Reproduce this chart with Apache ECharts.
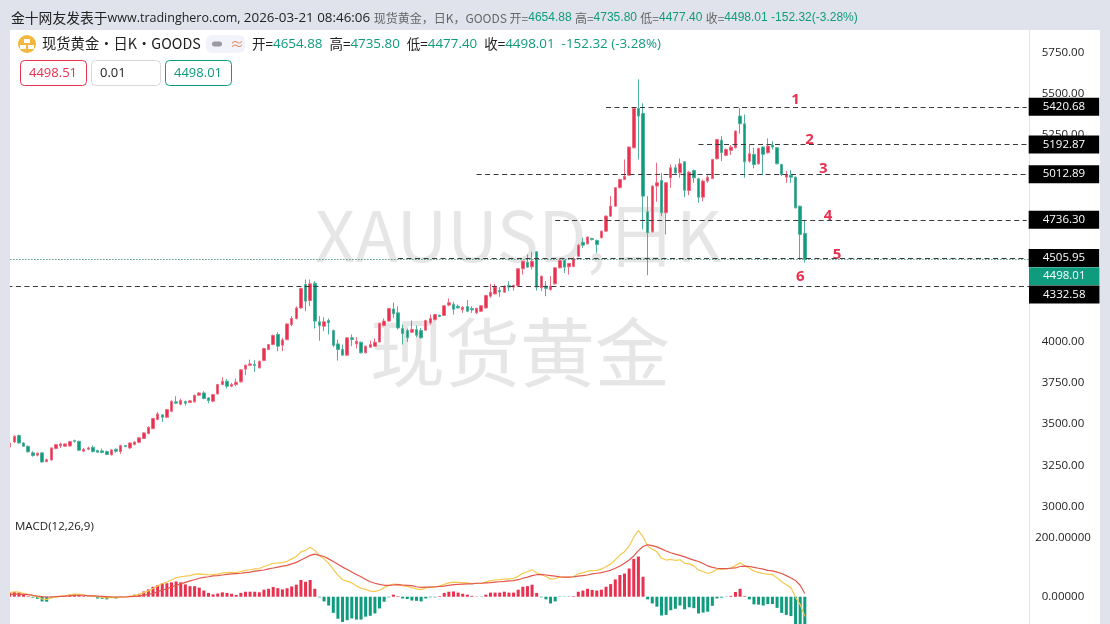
<!DOCTYPE html>
<html>
<head>
<meta charset="utf-8">
<title>XAUUSD 日K</title>
<script src="https://cdn.jsdelivr.net/npm/echarts@6/dist/echarts.min.js"></script>
<style>
  html, body { margin: 0; padding: 0; background: #e0e3eb; }
  #chart { width: 1110px; height: 624px; }
</style>
</head>
<body>
<div id="chart"></div>
<script>
// 日K 开高低收，从图上读取的估计值（第一根在左边缘被裁掉一半）
const opens = [
  3360,
  3391,3430,3385,3365,3325,3311,3325,3272,3282,3351,
  3367,3365,3367,3399,3395,3335,3347,3359,3339,3337,
  3333,3313,3347,3333,3369,3355,3375,3389,3412,3442,
  3472,3527,3555,3541,3577,3634,3620,3636,3630,3634,
  3674,3688,3658,3638,3682,3739,3759,3729,3739,3755,
  3832,3856,3860,3840,3884,3951,3981,4042,3977,4011,
  4102,4139,4203,4345,4248,4353,4119,4092,4127,4066,
  3985,3951,3917,4022,3985,3995,3931,3965,3971,3997,
  4096,4123,4197,4173,4078,4066,4056,4072,4066,4068,
  4112,4131,4159,4157,4220,4224,4213,4193,4211,4199,
  4173,4183,4203,4274,4288,4308,4298,4339,4329,4339,
  4440,4480,4452,4543,4325,4335,4314,4349,4446,4490,
  4452,4454,4516,4601,4591,4624,4611,4628,4668,4759,
  4819,4931,4981,5007,5173,5411,5381,4785,4664,4941,
  4975,4779,4991,5052,5021,5088,4914,5036,4985,4874,
  4971,4987,5106,5219,5127,5157,5173,5365,5318,5092,
  5133,5076,5177,5143,5189,5173,5072,4995,5007,4995,
  4819,4654.88
];
const closes = [
  3385,
  3426,3385,3365,3331,3309,3323,3270,3284,3355,3375,
  3379,3379,3393,3395,3341,3347,3355,3333,3329,3327,
  3315,3343,3335,3369,3363,3385,3391,3416,3446,3480,
  3533,3561,3541,3587,3638,3626,3642,3626,3640,3674,
  3688,3654,3642,3678,3739,3759,3729,3739,3753,3828,
  3856,3864,3854,3880,3957,3981,4036,3971,4009,4106,
  4139,4203,4321,4244,4349,4123,4096,4119,4113,3977,
  3951,3917,4022,4012,4001,3931,3971,3981,3995,4110,
  4123,4199,4167,4082,4048,4022,4072,4038,4022,4127,
  4139,4163,4151,4216,4234,4195,4203,4207,4183,4191,
  4201,4216,4278,4298,4329,4300,4335,4329,4339,4440,
  4486,4450,4486,4329,4395,4321,4335,4446,4490,4450,
  4472,4502,4583,4583,4632,4617,4587,4668,4759,4819,
  4931,4981,5001,5177,5411,5365,4880,4658,4941,4961,
  4779,4961,5052,5021,5076,4916,5025,4991,4874,4971,
  4995,5102,5223,5143,5163,5177,5274,5318,5088,5137,
  5072,5169,5133,5183,5177,5076,5011,5011,4995,4809,
  4648,4498.01
];
const lows = [
  3350,
  3385,3381,3361,3327,3302,3304,3264,3268,3278,3347,
  3355,3361,3363,3387,3337,3329,3341,3327,3325,3323,
  3311,3309,3325,3319,3359,3349,3371,3383,3408,3438,
  3468,3523,3513,3535,3571,3622,3613,3611,3626,3630,
  3670,3650,3626,3632,3678,3735,3715,3723,3729,3751,
  3795,3850,3816,3836,3880,3947,3977,3941,3941,4007,
  4092,4133,4197,4183,4213,4078,4005,4062,4042,3965,
  3884,3915,3913,3971,3957,3927,3927,3961,3967,3993,
  4092,4119,4143,4072,3981,3997,4052,4026,4018,4064,
  4102,4127,4147,4153,4213,4163,4199,4173,4177,4173,
  4167,4179,4199,4264,4284,4270,4294,4304,4308,4335,
  4405,4446,4436,4308,4304,4274,4308,4345,4442,4415,
  4405,4450,4510,4567,4587,4611,4537,4624,4664,4755,
  4815,4927,4979,5003,5169,5102,4678,4401,4660,4846,
  4759,4648,4931,5015,4991,4874,4886,4961,4840,4850,
  4961,4983,5102,5092,5122,5129,5169,5258,4991,5082,
  5048,5072,5007,5137,5163,5072,5001,4961,4961,4805,
  4496,4477.4
];
const highs = [
  3395,
  3432,3436,3389,3369,3335,3327,3329,3290,3359,3379,
  3387,3383,3397,3405,3399,3355,3363,3369,3343,3351,
  3339,3347,3351,3375,3373,3389,3395,3420,3450,3486,
  3537,3573,3561,3591,3642,3668,3654,3642,3646,3678,
  3694,3698,3662,3682,3743,3783,3773,3749,3775,3832,
  3860,3890,3886,3884,3961,3985,4042,4056,4022,4110,
  4153,4213,4325,4375,4375,4365,4153,4147,4139,4072,
  4011,3981,4026,4042,4026,3999,3975,4005,4018,4114,
  4139,4203,4236,4213,4102,4078,4127,4096,4082,4131,
  4163,4167,4163,4220,4260,4240,4224,4213,4250,4213,
  4205,4220,4282,4349,4349,4329,4339,4365,4345,4444,
  4490,4527,4543,4547,4399,4365,4395,4450,4494,4496,
  4476,4510,4591,4628,4636,4628,4617,4672,4763,4880,
  4935,4985,5102,5181,5415,5587,5442,4880,4945,5082,
  5021,4965,5072,5072,5108,5092,5032,5040,4991,4981,
  5007,5106,5227,5244,5169,5189,5278,5415,5375,5193,
  5173,5173,5181,5230,5213,5177,5076,5032,5038,4999,
  4823,4735.8
];

// MACD(12,26,9)
const macdHist = [
  14,
  16,14,7,2,-3,-7,-16,-17,-5,-1,
  0,2,7,8,6,2,1,-1,-6,-7,
  -9,-3,-6,-1,0,3,7,10,18,25,
  34,40,46,46,49,52,49,42,36,36,
  31,21,13,8,11,15,13,10,6,13,
  17,17,17,15,24,27,33,29,25,29,
  35,41,57,51,57,27,-2,-16,-30,-55,
  -75,-86,-80,-74,-78,-78,-68,-65,-57,-40,
  -17,-2,7,2,-6,-8,-13,-14,-16,-6,
  -2,-2,2,13,17,18,14,10,7,3,
  1,-1,7,14,14,14,17,14,14,24,
  34,36,41,13,-2,-9,-23,-16,-1,-1,
  -1,2,17,21,27,23,21,24,34,43,
  59,74,79,96,129,137,68,-9,-23,-34,
  -64,-62,-46,-41,-30,-43,-36,-39,-57,-54,
  -51,-31,-6,-3,-1,3,16,27,2,-9,
  -26,-27,-30,-25,-25,-38,-55,-62,-66,-114,
  -132,-155
];
const macdDea = [
  8,
  9,9,8,7,5,2,0,-1,-1,0,
  1,2,3,5,5,5,3,3,2,1,
  0,-1,-1,-1,-1,0,1,2,5,8,
  11,17,22,27,33,39,44,49,54,58,
  63,66,68,71,72,74,76,78,79,80,
  82,84,87,89,91,95,98,101,104,107,
  112,117,125,133,141,145,141,137,129,120,
  111,101,93,84,76,68,59,51,46,42,
  39,39,40,41,40,39,38,34,32,33,
  33,34,35,36,39,41,42,43,44,44,
  46,46,47,48,50,51,52,54,55,58,
  63,67,72,75,76,74,72,70,68,67,
  67,68,70,72,74,78,80,82,86,90,
  97,105,114,125,139,157,171,177,174,170,
  163,156,150,145,141,136,130,125,120,113,
  105,100,97,96,96,97,98,103,104,103,
  100,97,94,90,88,84,79,72,64,55,
  39,11
];
const macdDif = [
  14,
  17,16,11,8,4,-1,-8,-9,-3,-1,
  1,3,6,9,8,6,3,3,-1,-2,
  -4,-2,-4,-1,-1,1,4,7,14,20,
  28,37,45,50,57,65,68,70,72,76,
  78,76,74,75,77,81,82,83,82,86,
  90,92,95,96,103,108,114,115,116,121,
  129,137,153,158,169,158,140,129,114,93,
  74,58,53,47,37,29,25,19,18,22,
  31,38,43,42,37,35,31,27,24,30,
  32,33,36,42,47,50,49,48,47,45,
  46,45,50,55,57,58,60,61,62,70,
  80,85,92,81,75,69,60,62,67,66,
  66,69,78,82,87,89,90,94,103,111,
  126,142,153,173,203,225,205,172,162,153,
  131,125,127,124,126,114,112,105,91,86,
  79,84,94,94,95,98,106,116,105,98,
  87,83,79,77,75,65,51,41,31,-2,
  -27,-67
];

const priceTicks = [3000,3250,3500,3750,4000,4250,4500,4750,5000,5250,5500,5750];
const macdTicks = [0,200];

// 水平线：价位 + 起始K线序号
const levelPrices = [5420.68,5192.87,5012.89,4736.30,4505.95,4332.58];
const levelStarts = [129,149,101,118,84,null];
const lastPrice = 4498.01;

// 红色数字标注
const noteTexts = ['1','2','3','4','5','6'];
const noteSlots = [170,173,176,177,179,171];
const notePrices = [5462,5220,5044,4760,4523,4390];

const SLOTS = 221;
const categories = Array.from({ length: SLOTS }, (_, i) => String(i));

const UP = '#e8304f';
const DOWN = '#0f9b7e';
const UP_EDGE = '#ee6a80';
const DOWN_EDGE = '#4fb09c';
const BAND = '#e0e3eb';
const FONT = '"Noto Sans CJK SC", "Open Sans", sans-serif';
const NUM_FONT = '"Open Sans", "Noto Sans CJK SC", sans-serif';

const tagLabel = (value, bg, offsetY, distance) => ({
  show: true,
  position: 'end',
  distance,
  formatter: () => value.toFixed(2),
  color: '#fff',
  fontFamily: NUM_FONT,
  fontSize: 11.5,
  backgroundColor: bg,
  padding: [3, 14, 3, 14],
  lineHeight: 12,
  offset: [0, offsetY]
});

const dashed = { color: '#3a3a3a', type: [5, 3.5], width: 1.2 };

const levelLines = levelPrices.map((v, i) => {
  if (levelStarts[i] === null) {
    return { yAxis: v, lineStyle: dashed, label: tagLabel(v, '#000', 8, 0) };
  }
  return [
    { coord: [levelStarts[i], v], lineStyle: dashed, label: tagLabel(v, '#000', 0, 2) },
    { coord: [SLOTS - 1, v] }
  ];
});

const txt = (x, y, text, extra) => ({
  type: 'text',
  x, y,
  z: 10,
  style: Object.assign({ text, fontFamily: FONT, fontSize: 13, fill: '#222', verticalAlign: 'middle' }, extra)
});
const box = (x, y, w, h, stroke, extra) => ({
  type: 'rect',
  z: 10,
  shape: { x, y, width: w, height: h, r: 4 },
  style: Object.assign({ fill: '#fff', stroke, lineWidth: 1 }, extra)
});

const quoteRich = {
  k: { fontFamily: FONT, fontSize: 13.5, fill: '#222' },
  v: { fontFamily: NUM_FONT, fontSize: 13.4, fill: DOWN }
};
const headRich = {
  a: { fontFamily: FONT, fontSize: 13.8, fill: '#222' },
  u: { fontFamily: NUM_FONT, fontSize: 12.5, fill: '#222' },
  d: { fontFamily: NUM_FONT, fontSize: 13.4, fill: '#222' },
  g: { fontFamily: FONT, fontSize: 12, fill: '#666' },
  n: { fontFamily: '"Liberation Sans", sans-serif', fontSize: 12, fill: DOWN }
};

const chart = echarts.init(document.getElementById('chart'));

chart.setOption({
  animation: false,
  backgroundColor: BAND,
  grid: [
    { left: 7.4, right: 81, top: 30, height: 484 },
    { left: 7.4, right: 81, top: 514, height: 110 }
  ],
  xAxis: [
    { type: 'category', data: categories, gridIndex: 0, show: false },
    { type: 'category', data: categories, gridIndex: 1, show: false }
  ],
  yAxis: [
    {
      type: 'value', gridIndex: 0, position: 'right', min: 2954.7, max: 5886.3, scale: true,
      splitLine: { show: false },
      axisLine: { show: true, lineStyle: { color: BAND } },
      axisTick: { show: false },
      axisLabel: {
        customValues: priceTicks, align: 'center', margin: 34,
        fontFamily: NUM_FONT, fontSize: 11.5, color: '#222',
        formatter: v => v.toFixed(2)
      }
    },
    {
      type: 'value', gridIndex: 1, position: 'right', min: -93, max: 282,
      splitLine: { show: false },
      axisLine: { show: true, lineStyle: { color: BAND } },
      axisTick: { show: false },
      axisLabel: {
        customValues: macdTicks, align: 'center', margin: 34,
        fontFamily: NUM_FONT, fontSize: 11.5, color: '#222',
        formatter: v => v.toFixed(5)
      }
    }
  ],
  series: [
    {
      type: 'candlestick',
      xAxisIndex: 0, yAxisIndex: 0,
      barWidth: 3,
      data: opens.map((o, i) => [o, closes[i], lows[i], highs[i]]),
      itemStyle: { color: UP, color0: DOWN, borderColor: UP_EDGE, borderColor0: DOWN_EDGE, borderWidth: 1 },
      markLine: {
        silent: true,
        symbol: ['none', 'none'],
        data: [
          {
            yAxis: lastPrice,
            lineStyle: { color: '#0b6b58', type: [1, 2], width: 1 },
            label: tagLabel(lastPrice, DOWN, 17, 0)
          },
          ...levelLines
        ]
      }
    },
    {
      type: 'scatter',
      xAxisIndex: 0, yAxisIndex: 0,
      symbolSize: 0,
      itemStyle: { opacity: 1 },
      data: noteTexts.map((t, i) => ({ name: t, value: [noteSlots[i], notePrices[i]] })),
      label: {
        show: true, position: 'inside', formatter: '{b}',
        color: UP, fontFamily: NUM_FONT, fontSize: 15, fontWeight: 'bold'
      }
    },
    {
      type: 'bar',
      xAxisIndex: 1, yAxisIndex: 1,
      barWidth: 3,
      data: macdHist,
      itemStyle: { color: p => (p.value >= 0 ? UP : DOWN) }
    },
    {
      type: 'line',
      xAxisIndex: 1, yAxisIndex: 1,
      data: macdDif,
      showSymbol: false,
      lineStyle: { color: '#f5c94e', width: 1.2 }
    },
    {
      type: 'line',
      xAxisIndex: 1, yAxisIndex: 1,
      data: macdDea,
      showSymbol: false,
      lineStyle: { color: '#e2574c', width: 1.2 }
    }
  ],
  graphic: [
    // 白色绘图区 + 水印
    { type: 'rect', z: -2, shape: { x: 10, y: 30, width: 1090, height: 594 }, style: { fill: '#fff' } },
    { type: 'text', x: 315, y: 235, z: -1, style: { text: 'XAUUSD,日K', fontFamily: FONT, fontSize: 70, fill: '#e6e6e6', verticalAlign: 'middle' } },
    { type: 'text', x: 370, y: 352, z: -1, style: { text: '现货黄金', fontFamily: FONT, fontSize: 75, fill: '#e6e6e6', verticalAlign: 'middle' } },
    // 左边灰条盖住被裁掉的半根K线
    { type: 'rect', z: 20, shape: { x: 0, y: 0, width: 10, height: 624 }, style: { fill: BAND } },

    // 顶部发布信息
    txt(11, 18, '{a|金十网友发表于}{u|www.tradinghero.com, }{d|2026-03-21 08:46:06 }{g|现货黄金，日K，GOODS }{g|开=}{n|4654.88 }{g|高=}{n|4735.80 }{g|低=}{n|4477.40 }{g|收=}{n|4498.01 -152.32(-3.28%)}', { rich: headRich }),

    // 品种图标和名称
    { type: 'circle', z: 10, shape: { cx: 27, cy: 44, r: 9 }, style: { fill: '#f1b73e' } },
    { type: 'rect', z: 11, shape: { x: 24, y: 39, width: 6, height: 4 }, style: { fill: '#fff' } },
    { type: 'rect', z: 11, shape: { x: 20, y: 45, width: 6, height: 4 }, style: { fill: '#fff' } },
    { type: 'rect', z: 11, shape: { x: 28, y: 45, width: 6, height: 4 }, style: { fill: '#fff' } },
    txt(42, 44, '现货黄金・日K・GOODS', { fontSize: 14.3 }),
    { type: 'rect', z: 10, shape: { x: 206, y: 35, width: 39, height: 18, r: 6 }, style: { fill: '#f0f3fa' } },
    { type: 'rect', z: 11, shape: { x: 212, y: 41.5, width: 10, height: 5, r: 2.5 }, style: { fill: '#9a9aa0' } },
    txt(230, 44, '≈', { fill: '#f08a5d', fontSize: 14 }),
    txt(252, 44, '{k|开=}{v|4654.88  }{k|高=}{v|4735.80  }{k|低=}{v|4477.40  }{k|收=}{v|4498.01  -152.32 (-3.28%)}', { rich: quoteRich }),

    // 买卖价框
    box(20.5, 60.5, 66, 25, UP),
    txt(29, 73, '4498.51', { fill: UP, fontFamily: NUM_FONT }),
    box(91.5, 60.5, 69, 25, '#d8d8d8'),
    txt(100, 73, '0.01', { fill: '#222', fontFamily: NUM_FONT }),
    box(165.5, 60.5, 66, 25, DOWN),
    txt(174, 73, '4498.01', { fill: DOWN, fontFamily: NUM_FONT }),

    txt(15, 527, 'MACD(12,26,9)', { fontFamily: NUM_FONT, fontSize: 11.5 })
  ]
});
</script>
</body>
</html>
